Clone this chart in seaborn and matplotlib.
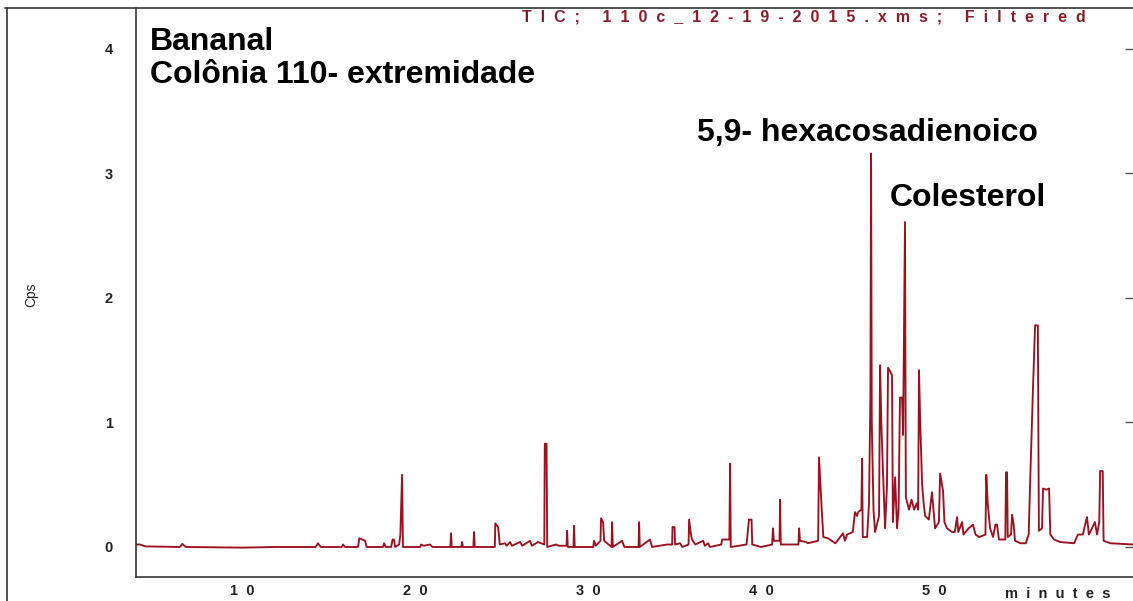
import matplotlib
matplotlib.use("Agg")
import matplotlib.pyplot as plt
from matplotlib.lines import Line2D
import seaborn as sns
import pandas as pd

# Total ion chromatogram trace: retention time (minutes) and signal (Cps, millions)
retention_time = [
    3.87, 4.10, 4.40, 6.40, 6.55, 6.75, 10.0, 12.0, 14.25, 14.39, 14.55, 15.75,
    15.84, 15.95, 16.70, 16.78, 16.95, 17.11, 17.20, 18.15, 18.21, 18.30, 18.62,
    18.70, 18.78, 18.85, 19.08, 19.15, 19.25, 19.30, 20.30, 20.35, 20.50, 20.87,
    21.00, 22.04, 22.08, 22.12, 22.67, 22.72, 22.77, 23.37, 23.41, 23.45, 24.61,
    24.64, 24.80, 24.90, 25.20, 25.30, 25.49, 25.60, 26.07, 26.20, 26.65, 26.75,
    27.11, 27.47, 27.50, 27.60, 27.64, 28.15, 28.30, 28.76, 28.79, 28.83, 29.16,
    29.19, 29.23, 30.30, 30.35, 30.45, 30.72, 30.75, 30.87, 30.93, 31.36, 31.39,
    31.43, 31.97, 32.10, 32.92, 32.95, 32.99, 33.58, 33.70, 34.57, 34.86, 34.88,
    35.00, 35.03, 35.32, 35.45, 35.81, 35.84, 35.95, 36.01, 36.20, 36.65, 36.75,
    36.94, 37.05, 37.70, 37.75, 38.17, 38.21, 38.25, 39.16, 39.19, 39.30, 39.45,
    39.49, 40.00, 40.64, 40.69, 40.74, 41.07, 41.10, 41.14, 42.16, 42.20, 42.25,
    42.60, 42.70, 43.30, 43.35, 43.50, 43.60, 43.87, 44.30, 44.74, 44.85, 44.97,
    45.30, 45.43, 45.55, 45.61, 45.80, 45.84, 45.88, 46.13, 46.24, 46.32, 46.36,
    46.40, 46.50, 46.59, 46.82, 46.88, 46.95, 47.05, 47.17, 47.28, 47.34, 47.50,
    47.57, 47.62, 47.75, 47.86, 47.95, 48.03, 48.15, 48.21, 48.32, 48.37, 48.55,
    48.70, 48.85, 49.00, 49.08, 49.13, 49.20, 49.31, 49.40, 49.48, 49.70, 49.88,
    50.00, 50.06, 50.28, 50.35, 50.52, 50.60, 50.75, 51.04, 51.20, 51.33, 51.40,
    51.62, 51.70, 52.00, 52.25, 52.40, 52.60, 52.97, 53.02, 53.10, 53.24, 53.41,
    53.55, 53.64, 53.75, 53.82, 54.12, 54.16, 54.22, 54.26, 54.45, 54.51, 54.60,
    54.68, 55.00, 55.30, 55.47, 55.55, 55.72, 55.84, 56.00, 56.06, 56.24, 56.30,
    56.50, 56.65, 56.72, 56.94, 57.28, 58.10, 58.25, 58.32, 58.60, 58.80, 58.84,
    58.95, 59.13, 59.30, 59.42, 59.55, 59.60, 59.75, 59.80, 60.20, 61.50,
]
signal = [
    0.02, 0.02, 0.005, 0.0, 0.025, 0.0, -0.005, 0.0, 0.0, 0.03, 0.0, 0.0,
    0.02, 0.0, 0.0, 0.07, 0.06, 0.05, 0.0, 0.0, 0.03, 0.0, 0.0,
    0.06, 0.06, 0.0, 0.02, 0.10, 0.58, 0.0, 0.0, 0.02, 0.01, 0.02,
    0.0, 0.0, 0.11, 0.0, 0.0, 0.04, 0.0, 0.0, 0.12, 0.0, 0.0,
    0.19, 0.16, 0.02, 0.03, 0.01, 0.04, 0.01, 0.04, 0.01, 0.05, 0.01,
    0.04, 0.02, 0.83, 0.83, 0.0, 0.02, 0.01, 0.01, 0.13, 0.0, 0.0,
    0.17, 0.0, 0.0, 0.05, 0.01, 0.05, 0.23, 0.20, 0.05, 0.0, 0.20,
    0.0, 0.05, 0.0, 0.0, 0.20, 0.0, 0.06, 0.0, 0.02, 0.02, 0.16,
    0.16, 0.02, 0.03, 0.0, 0.02, 0.22, 0.10, 0.06, 0.02, 0.05, 0.01,
    0.03, 0.0, 0.02, 0.06, 0.06, 0.67, 0.0, 0.02, 0.06, 0.22, 0.22,
    0.02, 0.0, 0.02, 0.15, 0.05, 0.05, 0.38, 0.02, 0.02, 0.15, 0.05,
    0.04, 0.03, 0.05, 0.72, 0.32, 0.08, 0.07, 0.03, 0.11, 0.05, 0.10,
    0.12, 0.28, 0.25, 0.28, 0.30, 0.71, 0.08, 0.08, 0.35, 1.20, 3.16,
    1.00, 0.30, 0.12, 0.25, 1.46, 1.00, 0.60, 0.15, 0.50, 1.44, 1.40,
    1.38, 0.20, 0.56, 0.15, 0.30, 1.20, 1.20, 0.90, 2.61, 0.40, 0.30,
    0.38, 0.30, 0.35, 0.30, 1.42, 1.00, 0.50, 0.35, 0.25, 0.22, 0.44,
    0.25, 0.15, 0.20, 0.59, 0.45, 0.20, 0.15, 0.12, 0.12, 0.24, 0.12,
    0.20, 0.10, 0.15, 0.18, 0.10, 0.08, 0.10, 0.58, 0.35, 0.15, 0.08,
    0.18, 0.18, 0.06, 0.06, 0.06, 0.60, 0.60, 0.08, 0.10, 0.26, 0.18,
    0.05, 0.03, 0.03, 0.10, 0.50, 1.28, 1.78, 1.78, 0.13, 0.15, 0.47,
    0.46, 0.47, 0.10, 0.06, 0.04, 0.03, 0.08, 0.10, 0.10, 0.22, 0.24,
    0.10, 0.15, 0.20, 0.10, 0.20, 0.61, 0.61, 0.05, 0.03, 0.02,
]

x_ticks = [10, 20, 30, 40, 50, 60]
x_tick_labels = ["1  0", "2  0", "3  0", "4  0", "5  0", ""]
y_ticks = [0, 1, 2, 3, 4]
y_tick_labels = ["0", "1", "2", "3", "4"]

header = "T  I  C  ;     1  1  0  c  _  1  2  -  1  9  -  2  0  1  5  .  x  m  s  ;     F  i  l  t  e  r  e  d"
x_title = "m  i  n  u  t  e  s"
sample_lines = ["Bananal", "Colônia 110- extremidade"]
peak_names = ["5,9- hexacosadienoico", "Colesterol"]

sns.set_style("white")
plt.rcParams["font.family"] = ["Liberation Sans", "DejaVu Sans"]

W, H = 1133, 601
fig = plt.figure(figsize=(W / 100, H / 100), dpi=100)
fig.patch.set_facecolor("white")

# axes box in pixel terms: left spine x=136, top y=8, bottom y=577
ax = fig.add_axes([136 / W, (H - 577) / H, (W - 136) / W, (577 - 8) / H])
ax.set_facecolor("white")

df = pd.DataFrame({"time": retention_time, "cps": signal})
sns.lineplot(data=df, x="time", y="cps", ax=ax, color="#9a1220",
             linewidth=1.35, estimator=None, sort=False)

ax.set_xlim(3.87, 61.5)
ax.set_ylim(-0.241, 4.329)
ax.set_xlabel("")
ax.set_ylabel("")

ax.set_xticks(x_ticks)
ax.set_xticklabels(x_tick_labels, fontsize=10.5, fontweight="bold")
ax.set_yticks(y_ticks)
ax.set_yticklabels(y_tick_labels, fontsize=10.5, fontweight="bold")
ax.tick_params(axis="x", direction="inout", length=8, width=1.0, pad=1, colors="#333333")
ax.tick_params(axis="y", direction="out", length=9.5, width=1.0, pad=7, colors="#333333")
for lab in ax.get_xticklabels() + ax.get_yticklabels():
    lab.set_color("#222222")

for side in ["top", "right"]:
    ax.spines[side].set_visible(False)
for side in ["left", "bottom"]:
    ax.spines[side].set_color("#333333")
    ax.spines[side].set_linewidth(1.2)

# short inward ticks along the right edge
sec = ax.secondary_yaxis("right")
sec.set_yticks(y_ticks)
sec.tick_params(direction="in", length=6, width=1.0, labelright=False, colors="#555555")
sec.spines["right"].set_visible(False)

# outer frame lines
fig.add_artist(Line2D([5 / W, 1.0], [(H - 8) / H, (H - 8) / H], color="#333333", linewidth=1.2))
fig.add_artist(Line2D([7 / W, 7 / W], [0.0, (H - 8) / H], color="#333333", linewidth=1.2))

fig.text(31 / W, 1 - 295 / H, "Cps", rotation=90, fontsize=10, ha="center", va="center",
         color="#222222")
fig.text(1058 / W, 1 - 594 / H, x_title, fontsize=10.5, fontweight="bold",
         ha="center", va="center", color="#222222")

fig.text(522 / W, 1 - 22 / H, header, fontsize=11.5, fontweight="bold",
         color="#8b1c2c", ha="left", va="baseline")

fig.text(150 / W, 1 - 50 / H, sample_lines[0], fontsize=23, fontweight="bold",
         ha="left", va="baseline", color="black")
fig.text(150 / W, 1 - 83 / H, sample_lines[1], fontsize=23, fontweight="bold",
         ha="left", va="baseline", color="black")
fig.text(697 / W, 1 - 141 / H, peak_names[0], fontsize=23, fontweight="bold",
         ha="left", va="baseline", color="black")
fig.text(890 / W, 1 - 206 / H, peak_names[1], fontsize=23, fontweight="bold",
         ha="left", va="baseline", color="black")

fig.savefig("out.png", dpi=100, facecolor="white")
